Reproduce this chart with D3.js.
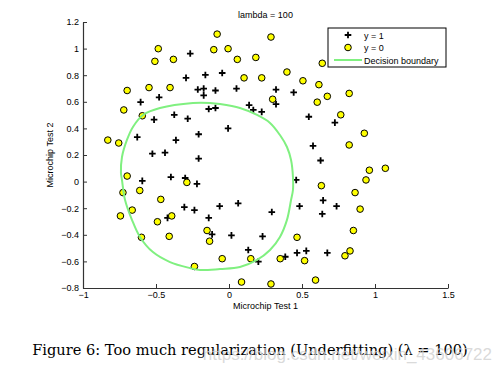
<!DOCTYPE html>
<html>
<head>
<meta charset="utf-8">
<script src="https://cdn.jsdelivr.net/npm/d3@7"></script>
<style>
  body { margin: 0; background: #fff; }
  text { font-family: "Liberation Sans", Arial, sans-serif; }
</style>
</head>
<body>
<svg width="501" height="373"></svg>
<script>
// accepted microchips (y = 1)
var posPoints = [
  [0.051267, 0.69956], [-0.092742, 0.68494], [-0.21371, 0.69225], [-0.375, 0.50219],
  [-0.51325, 0.46564], [-0.52477, 0.2098], [-0.39804, 0.034357], [-0.30588, -0.19225],
  [0.016705, -0.40424], [0.13191, -0.51389], [0.38537, -0.56506], [0.52938, -0.5212],
  [0.63882, -0.24342], [0.73675, -0.18494], [0.54666, 0.48757], [0.322, 0.5826],
  [0.16647, 0.53874], [-0.046659, 0.81652], [-0.17339, 0.69956], [-0.47869, 0.63377],
  [-0.60541, 0.59722], [-0.62846, 0.33406], [-0.59389, 0.005117], [-0.42108, -0.27266],
  [-0.11578, -0.39693], [0.20104, -0.60161], [0.46601, -0.53582], [0.67339, -0.53582],
  [-0.13882, 0.54605], [-0.29435, 0.77997], [-0.26555, 0.96272], [-0.16187, 0.8019],
  [-0.17339, 0.64839], [-0.28283, 0.47295], [-0.36348, 0.31213], [-0.30012, 0.027047],
  [-0.23675, -0.21418], [-0.06394, -0.18494], [0.062788, -0.16301], [0.22984, -0.41155],
  [0.2932, -0.2288], [0.48329, -0.18494], [0.64459, -0.14108], [0.46025, 0.012427],
  [0.6273, 0.15863], [0.57546, 0.26827], [0.72523, 0.44371], [0.22408, 0.52412],
  [0.44297, 0.67032], [0.322, 0.69225], [0.13767, 0.57529], [-0.0063364, 0.39985],
  [-0.092742, 0.55336], [-0.20795, 0.35599], [-0.20795, 0.17325], [-0.43836, 0.21711],
  [-0.21947, -0.016813], [-0.13882, -0.27266]
];

// rejected microchips (y = 0)
var negPoints = [
  [0.18376, 0.93348], [0.22408, 0.77997], [0.29896, 0.61915], [0.50634, 0.75804],
  [0.61578, 0.7288], [0.60426, 0.59722], [0.76555, 0.50219], [0.92684, 0.3633],
  [0.82316, 0.27558], [0.96141, 0.085526], [0.93836, 0.012427], [0.86348, -0.082602],
  [0.89804, -0.20687], [0.85196, -0.36769], [0.82892, -0.5212], [0.79435, -0.55775],
  [0.59274, -0.7405], [0.51786, -0.5943], [0.46601, -0.41886], [0.35081, -0.57968],
  [0.28744, -0.76974], [0.085829, -0.75512], [0.14919, -0.57968], [-0.13306, -0.4481],
  [-0.40956, -0.41155], [-0.39228, -0.25804], [-0.74366, -0.25804], [-0.69758, 0.041667],
  [-0.75518, 0.2902], [-0.69758, 0.68494], [-0.4038, 0.70687], [-0.38076, 0.91886],
  [-0.50749, 0.90424], [-0.54781, 0.70687], [0.10311, 0.77997], [0.057028, 0.91886],
  [-0.10426, 0.99196], [-0.081221, 1.1089], [0.28744, 1.087], [0.39689, 0.82383],
  [0.63882, 0.88962], [0.82316, 0.66301], [0.67339, 0.64108], [1.0709, 0.10015],
  [-0.046659, -0.57968], [-0.23675, -0.63816], [-0.15035, -0.36769], [-0.49021, -0.3019],
  [-0.46717, -0.13377], [-0.28859, -0.0060673], [-0.61118, -0.067032], [-0.66302, -0.21418],
  [-0.59965, -0.41886], [-0.72638, -0.082602], [-0.83007, 0.31213], [-0.72062, 0.53874],
  [-0.59389, 0.49488], [-0.48445, 0.99927], [-0.0063364, 0.99927], [0.63265, -0.030612]
];

// decision boundary (closed loop)
var boundary = [
  [-0.130, 0.591], [-0.062, 0.583], [0.075, 0.553], [0.192, 0.501], [0.281, 0.441],
  [0.349, 0.350], [0.397, 0.260], [0.425, 0.162], [0.438, 0.035], [0.438, -0.063],
  [0.425, -0.138], [0.397, -0.288], [0.349, -0.416], [0.281, -0.514], [0.192, -0.589],
  [0.075, -0.642], [-0.062, -0.657], [-0.199, -0.665], [-0.267, -0.650], [-0.404, -0.605],
  [-0.521, -0.530], [-0.610, -0.416], [-0.664, -0.289], [-0.712, -0.138], [-0.733, 0.012],
  [-0.740, 0.065], [-0.733, 0.185], [-0.699, 0.313], [-0.658, 0.411], [-0.589, 0.501],
  [-0.473, 0.553], [-0.247, 0.591]
];

var xTicks = [-1, -0.5, 0, 0.5, 1, 1.5];
var yTicks = [-0.8, -0.6, -0.4, -0.2, 0, 0.2, 0.4, 0.6, 0.8, 1, 1.2];
var legendLabels = ['y = 1', 'y = 0', 'Decision boundary'];

var svg = d3.select('svg');
var plotLeft = 83, plotRight = 448, plotTop = 22, plotBottom = 288;

var x = d3.scaleLinear().domain([-1, 1.5]).range([plotLeft, plotRight]);
var y = d3.scaleLinear().domain([-0.8, 1.2]).range([plotBottom, plotTop]);

function fmt(v) { return String(v).replace('-', '\u2212'); }

// axes, ticks pointing inward like matlab
var xAxis = svg.append('g')
  .attr('transform', 'translate(0,' + plotBottom + ')')
  .call(d3.axisBottom(x).tickValues(xTicks).tickFormat(fmt).tickSizeInner(-4).tickSizeOuter(0).tickPadding(4));
var yAxis = svg.append('g')
  .attr('transform', 'translate(' + plotLeft + ',0)')
  .call(d3.axisLeft(y).tickValues(yTicks).tickFormat(fmt).tickSizeInner(-4).tickSizeOuter(0).tickPadding(4));

[xAxis, yAxis].forEach(function(a) {
  a.select('.domain').attr('stroke', '#333').attr('stroke-width', 1.2);
  a.selectAll('.tick line').attr('stroke', '#333');
  a.selectAll('.tick text').attr('font-size', 9).attr('fill', '#000')
    .style('font-family', '"Liberation Sans", Arial, sans-serif');
});

// positives as plus signs
svg.append('g').selectAll('path')
  .data(posPoints)
  .enter()
  .append('path')
  .attr('d', function(d) {
    var cx = x(d[0]), cy = y(d[1]), s = 3.3;
    return 'M' + (cx - s) + ',' + cy + 'H' + (cx + s) + 'M' + cx + ',' + (cy - s) + 'V' + (cy + s);
  })
  .attr('stroke', '#000')
  .attr('stroke-width', 1.8);

// negatives as yellow circles
svg.append('g').selectAll('circle')
  .data(negPoints)
  .enter()
  .append('circle')
  .attr('cx', function(d) { return x(d[0]); })
  .attr('cy', function(d) { return y(d[1]); })
  .attr('r', 3.3)
  .attr('fill', '#ffff00')
  .attr('stroke', '#000')
  .attr('stroke-width', 1);

var lineGen = d3.line()
  .x(function(d) { return x(d[0]); })
  .y(function(d) { return y(d[1]); })
  .curve(d3.curveCatmullRomClosed);

svg.append('path')
  .datum(boundary)
  .attr('d', lineGen)
  .attr('fill', 'none')
  .attr('stroke', '#80f080')
  .attr('stroke-width', 2);

// titles
svg.append('text').attr('x', (plotLeft + plotRight) / 2).attr('y', 18)
  .attr('text-anchor', 'middle').attr('font-size', 9).text('lambda = 100');
svg.append('text').attr('x', (plotLeft + plotRight) / 2).attr('y', 309)
  .attr('text-anchor', 'middle').attr('font-size', 9).text('Microchip Test 1');
svg.append('text').attr('transform', 'translate(53,' + ((plotTop + plotBottom) / 2) + ') rotate(-90)')
  .attr('text-anchor', 'middle').attr('font-size', 9).text('Microchip Test 2');

// legend
var lg = svg.append('g').attr('transform', 'translate(328,28)');
lg.append('rect').attr('width', 118).attr('height', 39)
  .attr('fill', '#fff').attr('stroke', '#000').attr('stroke-width', 1);
legendLabels.forEach(function(t, i) {
  var ly = 7 + i * 12.5;
  lg.append('text').attr('x', 36).attr('y', ly + 3.5).attr('font-size', 9).text(t);
  if (i === 0) {
    lg.append('path').attr('d', 'M' + (20 - 3.3) + ',' + ly + 'H' + (20 + 3.3) + 'M20,' + (ly - 3.3) + 'V' + (ly + 3.3))
      .attr('stroke', '#000').attr('stroke-width', 1.8);
  } else if (i === 1) {
    lg.append('circle').attr('cx', 20).attr('cy', ly).attr('r', 3.3)
      .attr('fill', '#ffff00').attr('stroke', '#000');
  } else {
    lg.append('line').attr('x1', 6).attr('x2', 34).attr('y1', ly).attr('y2', ly)
      .attr('stroke', '#80f080').attr('stroke-width', 2);
  }
});

// caption and watermark
svg.append('text').attr('x', 250).attr('y', 355).attr('text-anchor', 'middle')
  .style('font-family', '"DejaVu Serif", "Liberation Serif", serif').attr('font-size', 14.6)
  .text('Figure 6: Too much regularization (Underfitting) (\u03bb = 100)');
svg.append('text').attr('x', 492).attr('y', 360).attr('text-anchor', 'end')
  .attr('font-size', 17).attr('fill', '#d0d0d0').attr('fill-opacity', 0.8)
  .text('https://blog.csdn.net/weixin_43606722');
</script>
</body>
</html>
